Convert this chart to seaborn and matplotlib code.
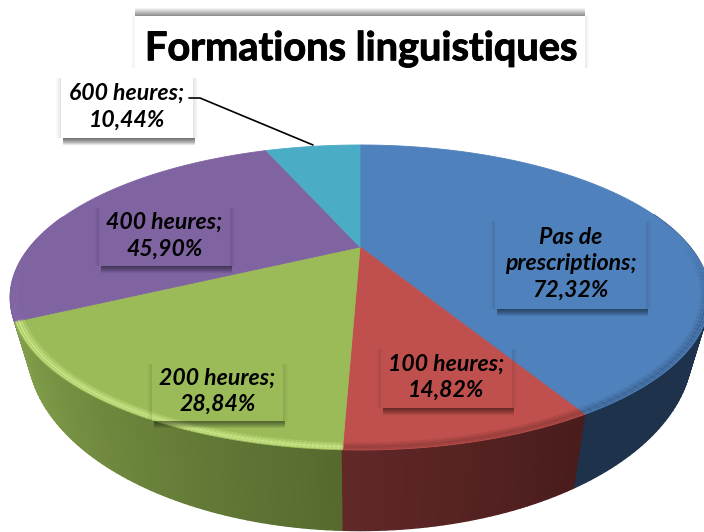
import numpy as np
import seaborn as sns
import matplotlib
matplotlib.use('Agg')
import matplotlib.pyplot as plt
import matplotlib.patheffects as pe
from matplotlib.patches import Rectangle

sns.set_style('white')
plt.rcParams['font.family'] = ['Lato', 'DejaVu Sans']

title = 'Formations linguistiques'
categories = ['Pas de\nprescriptions', '100 heures', '200 heures', '400 heures', '600 heures']
values = [72.32, 14.82, 28.84, 45.90, 10.44]

top_colors = sns.color_palette(['#4f81bd', '#c0504d', '#9bbb59', '#8064a2', '#4bacc6'])
side_left = ['#1e324c', '#612828', '#84a24c', '#8a6fb2', '#2f6b7c']
side_right = ['#1e324c', '#4a1c1c', '#566a2e', '#7b60a0', '#2f6b7c']
bevel_colors = ['#34587f', '#8a3a38', '#cde88a', '#8f74b4', '#4bacc6']
bevel_alpha = [0.55, 0.5, 0.8, 0.25, 0.0]

# label box: left, top, right, bottom in pixels
boxes = [(495, 218, 646, 309), (381, 346, 512, 408), (152, 361, 283, 421),
         (99, 205, 230, 266), (61, 75, 193, 138)]

CX, CY, RX, RY, TILT = 360, 247, 330, 135.8, 0.331


def project(theta, r=1.0, lower=False):
    """Perspective view of a point of the pie, in picture pixels."""
    u, v = r * np.cos(theta), r * np.sin(theta)
    w = 1 + TILT * v
    x, y = RX * u / w, -RY * v / w
    if lower:
        x, y = 0.95 * x, 1.19 * y + 42
    return CX + x, CY + y


def box_shadow(ax, box, strength=0.11):
    left, top, right, bottom = box
    for k in range(1, 8):
        ax.add_patch(Rectangle((left + 2, bottom), right - left, k, color='black',
                               alpha=strength, lw=0, zorder=5))
        ax.add_patch(Rectangle((right, top + 3), k * 0.7, bottom - top - 3, color='black',
                               alpha=strength / 6, lw=0, zorder=5))
        ax.add_patch(Rectangle((left - k * 0.7, top + 3), k * 0.7, bottom - top - 3, color='black',
                               alpha=strength / 7, lw=0, zorder=5))


fig = plt.figure(figsize=(7.04, 5.32), dpi=100)
ax = fig.add_axes([0, 0, 1, 1])

wedges, _ = ax.pie(values, colors=top_colors, startangle=90, counterclock=False)
spans = [np.deg2rad([wd.theta1, wd.theta2]) for wd in wedges]
for wd in wedges:
    wd.remove()

ax.set_aspect('auto')
ax.set_xlim(0, 704)
ax.set_ylim(532, 0)
ax.axis('off')

# pie wall, only the strips that can show, far ones first
strips = []
for i, (t1, t2) in enumerate(spans):
    n = max(int(np.degrees(t2 - t1)), 2)
    edges = np.linspace(t1, t2, n + 1)
    shades = sns.blend_palette([side_left[i], side_right[i]], n)
    for j in range(n):
        if np.sin(edges[j]) < 0.25:
            strips.append((edges[j], edges[j + 1], shades[j]))
strips.sort(key=lambda s: -np.sin((s[0] + s[1]) / 2))
for a, b, shade in strips:
    th = np.array([a, b])
    xt, yt = project(th)
    xb, yb = project(th, lower=True)
    ax.fill(np.r_[xt, xb[::-1]], np.r_[yt, yb[::-1]], color=shade, lw=1.0, zorder=1)

# top face and rim highlight
for i, (t1, t2) in enumerate(spans):
    th = np.linspace(t1, t2, 120)
    x, y = project(th)
    ax.fill(np.r_[CX, x], np.r_[CY, y], color=top_colors[i], lw=0.6, zorder=2)
    if bevel_alpha[i] == 0:
        continue
    front = np.clip(-np.sin((th[:-1] + th[1:]) / 2) * 2.2, 0, 1)
    for r, lw, fade in [(0.996, 1.2, 0.8), (0.990, 1.4, 1.0), (0.984, 1.4, 0.6), (0.978, 1.4, 0.25)]:
        xs, ys = project(th, r)
        for j in range(len(front)):
            if front[j] > 0:
                ax.plot(xs[j:j + 2], ys[j:j + 2], color=bevel_colors[i], lw=lw, solid_capstyle='round',
                        alpha=bevel_alpha[i] * fade * front[j], zorder=3)

# title frame
for k in range(8):
    ax.add_patch(Rectangle((135, 8 + k), 450, 1.2, color='black', alpha=0.05 + 0.055 * k,
                           lw=0, zorder=4))
for k in range(1, 5):
    ax.add_patch(Rectangle((585, 16), k, 52, color='black', alpha=0.018, lw=0, zorder=4))
    ax.add_patch(Rectangle((135 - k, 16), k, 52, color='black', alpha=0.012, lw=0, zorder=4))
ax.text(361, 49, title, fontsize=28.6, fontweight='bold', ha='center', va='center',
        color='black', zorder=7, path_effects=[pe.withStroke(linewidth=0.7, foreground='black')])

# data labels
for i, box in enumerate(boxes):
    box_shadow(ax, box, 0.1 if i == 4 else 0.08)
    text = f'{categories[i]};\n{values[i]:.2f}%'.replace('.', ',')
    ax.text((box[0] + box[2]) / 2, (box[1] + box[3]) / 2, text, fontsize=16.6, fontweight='bold',
            fontstyle='italic', ha='center', va='center', linespacing=1.32, color='black', zorder=7)

# leader line of the outer label
ax.plot([189, 200, 313], [98, 98, 145], color='black', lw=1.2, zorder=6)

fig.savefig('out.png', dpi=100)
